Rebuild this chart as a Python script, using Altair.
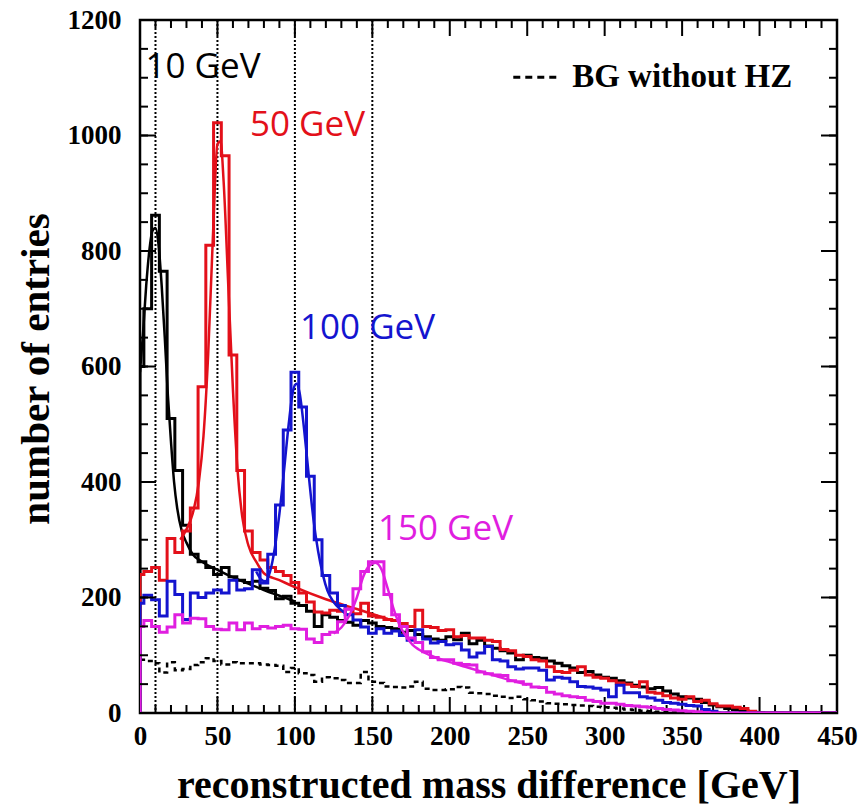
import altair as alt
import pandas as pd

# ---------------- data ----------------
bin_centers = [5 * i for i in range(91)]  # 5 GeV bins, 0 .. 450 GeV

h10 = [600, 700, 862, 765, 510, 420, 325, 275, 262, 252, 240, 252, 236, 230, 226, 228,
       216, 212, 198, 202, 190, 186, 176, 150, 170, 166, 160, 157, 152, 160, 156, 150,
       148, 146, 140, 143, 136, 132, 128, 126, 132, 127, 138, 120, 126, 116, 112, 108,
       104, 92, 100, 96, 95, 90, 86, 82, 78, 70, 72, 66, 62, 60, 56, 52, 48, 45, 42, 44,
       38, 33, 28, 26, 24, 18, 14, 11, 8, 6, 4, 2, 1,
       0, 0, 0, 0, 0, 0, 0, 0, 0, 0]

h50 = [240, 245, 252, 230, 302, 278, 315, 355, 565, 810, 1022, 965, 620, 420, 315, 278,
       265, 252, 245, 238, 226, 208, 192, 175, 173, 178, 176, 180, 172, 190, 168, 166,
       162, 160, 155, 150, 178, 150, 148, 143, 144, 132, 134, 130, 130, 126, 124, 110,
       108, 100, 98, 92, 90, 80, 72, 70, 74, 80, 66, 62, 60, 56, 52, 50, 46, 54, 36, 34,
       30, 26, 24, 28, 20, 22, 16, 12, 12, 10, 8, 3,
       0, 0, 0, 0, 0, 0, 0, 0, 0, 0, 0]

h100 = [190, 204, 196, 168, 228, 205, 162, 208, 200, 208, 213, 208, 230, 213, 215, 248,
        225, 275, 360, 490, 590, 530, 410, 300, 238, 208, 186, 170, 161, 149, 138, 146,
        138, 142, 134, 126, 144, 128, 121, 124, 118, 120, 109, 97, 104, 115, 92, 90,
        80, 76, 78, 78, 74, 57, 62, 60, 54, 46, 45, 43, 40, 28, 48, 35, 35, 28, 26, 22,
        18, 17, 15, 13, 12, 6, 3,
        0, 0, 0, 0, 0, 0, 0, 0, 0, 0, 0, 0, 0, 0, 0, 0]

h150 = [150, 160, 150, 140, 149, 170, 156, 164, 163, 150, 145, 144, 156, 144, 156, 146,
        150, 147, 150, 152, 146, 145, 128, 122, 136, 140, 158, 180, 215, 245, 262, 262,
        205, 170, 150, 130, 122, 106, 96, 92, 92, 86, 84, 83, 71, 68, 66, 65, 56, 54,
        50, 45, 44, 36, 33, 30, 28, 27, 22, 20, 17, 17, 15, 13, 12, 11, 10, 8, 6, 5, 4,
        3, 2, 1,
        0, 0, 0, 0, 0, 0, 0, 0, 0, 0, 0, 0, 0, 0, 0, 0, 0]

h_bg = [92, 90, 86, 70, 88, 74, 76, 83, 88, 95, 90, 84, 88, 86, 86, 86, 84, 83, 82, 71,
        78, 69, 66, 54, 62, 60, 57, 52, 52, 71, 54, 52, 46, 45, 44, 46, 54, 42, 40, 40,
        41, 45, 44, 35, 34, 33, 30, 28, 26, 28, 24, 22, 20, 17, 16, 15, 14, 13, 12, 11,
        10, 9, 8, 6, 5, 4, 3, 2, 2, 1,
        0, 0, 0, 0, 0, 0, 0, 0, 0, 0, 0, 0, 0, 0, 0, 0, 0, 0, 0, 0, 0]

# fitted curves
fit10_x = [0, 2, 4, 6, 8, 10, 12, 14, 16, 18, 20, 22, 24, 27, 30, 34, 40, 50, 60, 70, 80, 90, 100]
fit10_y = [590, 660, 740, 800, 835, 840, 810, 740, 650, 550, 470, 400, 355, 315, 295, 275, 262,
           248, 235, 224, 213, 203, 193]
fit50_x = [26, 30, 34, 38, 41, 44, 47, 50, 52, 54, 57, 60, 63, 66, 70, 75, 80, 90, 100, 120, 140, 160]
fit50_y = [300, 318, 345, 400, 480, 620, 820, 985, 990, 920, 740, 560, 420, 340, 290, 262, 242,
           230, 218, 197, 180, 163]
fit100_x = [75, 78, 81, 84, 87, 90, 93, 96, 99, 101, 103, 106, 109, 112, 115, 118, 121, 125, 130, 135]
fit100_y = [245, 232, 228, 245, 285, 345, 420, 500, 560, 570, 555, 490, 410, 335, 280, 240, 212,
            192, 178, 168]
fit150_x = [125, 130, 135, 140, 144, 148, 152, 156, 160, 164, 168, 172, 176, 180, 190, 200, 210,
            220, 230, 240, 250]
fit150_y = [138, 148, 168, 200, 235, 255, 260, 248, 215, 178, 150, 132, 118, 110, 97, 88, 80, 72,
            64, 56, 49]

mass_lines = [10, 50, 100, 150]
label_text = ["10 GeV", "50 GeV", "100 GeV", "150 GeV"]
label_x = [3.5, 71, 103.3, 153.6]
label_y = [1118, 1018, 667, 319]
colors = ["#000000", "#e3101a", "#1414cf", "#e01ee0"]

legend_text = "BG without HZ"
legend_dash_x = [241, 270]
legend_y = 1101
legend_text_x = 279

x_ticks = [0, 50, 100, 150, 200, 250, 300, 350, 400, 450]
x_minor = [v for v in range(0, 451, 10) if v % 50 != 0]
y_ticks = [0, 200, 400, 600, 800, 1000, 1200]
y_minor = [v for v in range(0, 1201, 50)]

# ---------------- chart ----------------
W, H = 697, 693
XMAX, YMAX = 450, 1200
MAJ, MIN = 16, 8  # tick lengths, px
xs = alt.Scale(domain=[0, XMAX], nice=False, zero=False)
ys = alt.Scale(domain=[0, YMAX], nice=False)

xaxis = alt.Axis(values=x_ticks, title="reconstructed mass difference [GeV]", grid=False,
                 ticks=False, domain=False, labelFont="Liberation Serif", labelFontWeight="bold",
                 labelFontSize=27, labelColor="black", labelPadding=10, labelFlush=False,
                 labelOverlap=False, format="d", titleFont="Liberation Serif",
                 titleFontWeight="bold", titleFontSize=40, titleColor="black",
                 titleBaseline="alphabetic", titleY=84)
yaxis = alt.Axis(values=y_ticks, title="number of entries", grid=False, ticks=False,
                 domain=False, labelFont="Liberation Serif", labelFontWeight="bold",
                 labelFontSize=27, labelColor="black", labelPadding=19, labelFlush=False,
                 labelOverlap=False, format="d", titleFont="Liberation Serif",
                 titleFontWeight="bold", titleFontSize=41, titleColor="black",
                 titleBaseline="alphabetic", titleX=-92, titleY=H / 2 + 2, titleAngle=270)


def X(f):
    return alt.X(f, type="quantitative", scale=xs, axis=xaxis)


def Y(f):
    return alt.Y(f, type="quantitative", scale=ys, axis=yaxis)


def hist_df(vals, start_zero=True):
    xs_ = ([0] if start_zero else []) + bin_centers
    ys_ = ([0] if start_zero else []) + vals
    return pd.DataFrame({"x": xs_, "y": ys_, "i": list(range(len(xs_)))})


layers = []

# x ticks (inward, bottom and top): full-height rules whose dash pattern leaves
# only a short dash at each end of the frame
layers.append(alt.Chart(pd.DataFrame({"v": x_ticks})).mark_rule(
    color="black", strokeWidth=2, strokeDash=[MAJ, H - 2 * MAJ]).encode(x=X("v")))
layers.append(alt.Chart(pd.DataFrame({"v": x_minor})).mark_rule(
    color="black", strokeWidth=2, strokeDash=[MIN, H - 2 * MIN]).encode(x=X("v")))

# dotted vertical lines at the nominal masses
layers.append(alt.Chart(pd.DataFrame({"m": mass_lines})).mark_rule(
    color="black", strokeWidth=2, strokeDash=[2, 2]).encode(x=X("m")))

# background (dashed)
layers.append(alt.Chart(hist_df(h_bg, start_zero=False)).mark_line(
    interpolate="step", color="black", strokeWidth=2.5, strokeDash=[5, 4], clip=True
).encode(x=X("x"), y=Y("y"), order="i:Q"))

fits = [(fit10_x, fit10_y), (fit50_x, fit50_y), (fit100_x, fit100_y), (fit150_x, fit150_y)]
for vals, (fx, fy), col in zip([h10, h50, h100, h150], fits, colors):
    layers.append(alt.Chart(hist_df(vals)).mark_line(
        interpolate="step", color=col, strokeWidth=3, clip=True
    ).encode(x=X("x"), y=Y("y"), order="i:Q"))
    layers.append(alt.Chart(pd.DataFrame({"x": fx, "y": fy, "i": list(range(len(fx)))})).mark_line(
        interpolate="monotone", color=col, strokeWidth=2.5, clip=True
    ).encode(x=X("x"), y=Y("y"), order="i:Q"))

# peak labels
for t, lx, ly, col in zip(label_text, label_x, label_y, colors):
    layers.append(alt.Chart(pd.DataFrame({"x": [lx], "y": [ly], "t": [t]})).mark_text(
        font="Open Sans", fontSize=35, align="left", baseline="middle", color=col
    ).encode(x=X("x"), y=Y("y"), text="t:N"))

# legend
layers.append(alt.Chart(pd.DataFrame({"x": [legend_dash_x[0]], "x2": [legend_dash_x[1]],
                                      "y": [legend_y]})).mark_rule(
    color="black", strokeWidth=3, strokeDash=[7, 5]).encode(x=X("x"), x2="x2", y=Y("y")))
layers.append(alt.Chart(pd.DataFrame({"x": [legend_text_x], "y": [legend_y], "t": [legend_text]})).mark_text(
    font="Liberation Serif", fontWeight="bold", fontSize=33, align="left", baseline="middle",
    color="black").encode(x=X("x"), y=Y("y"), text="t:N"))

# y ticks (inward, left and right) as short horizontal segments
px_x = XMAX / W   # data units per pixel, horizontal
tick_rows = []
tid = 0
for vals, L in [(y_ticks, MAJ), (y_minor, MIN)]:
    for v in vals:
        for a, b in [(0.0, L * px_x), (XMAX - L * px_x, float(XMAX))]:
            tick_rows += [{"tx": a, "ty": v, "id": tid}, {"tx": b, "ty": v, "id": tid}]
            tid += 1
ticks_df = pd.DataFrame(tick_rows)
layers.append(alt.Chart(ticks_df).mark_line(color="black", strokeWidth=2).encode(
    x=X("tx"), y=Y("ty"), detail="id:N"))

chart = alt.layer(*layers).properties(
    width=W, height=H,
    autosize=alt.AutoSizeParams(type="none"),
    padding={"left": 140, "top": 20, "right": 30, "bottom": 94},
    background="white",
).configure_view(stroke="black", strokeWidth=2.5)

chart.save("out.html", embed_options={"renderer": "svg", "actions": False})
